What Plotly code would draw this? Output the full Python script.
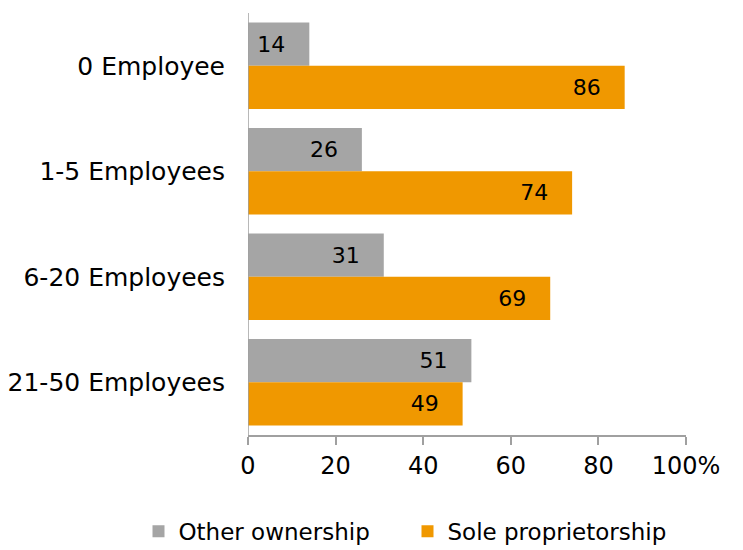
import plotly.graph_objects as go

categories = ["0 Employee", "1-5 Employees", "6-20 Employees", "21-50 Employees"]
other_ownership = [14, 26, 31, 51]
sole_proprietorship = [86, 74, 69, 49]
tick_vals = [0, 20, 40, 60, 80, 100]
tick_text = ["0", "20", "40", "60", "80", "100%"]

FONT = "DejaVu Sans"
GRAY = "#A5A5A5"
ORANGE = "#F09800"
PAD = "\u00a0\u00a0\u00a0"  # keeps value labels a little inside the bar end


def bar(values, name, color):
    return go.Bar(
        y=categories, x=values, orientation="h", name=name,
        marker=dict(color=color, line=dict(width=0)),
        text=[f"{v}{PAD}" for v in values], textposition="inside",
        insidetextanchor="end", textfont=dict(family=FONT, size=22, color="black"),
    )


fig = go.Figure([
    bar(other_ownership, "Other ownership", GRAY),
    bar(sole_proprietorship, "Sole proprietorship", ORANGE),
])

fig.update_layout(
    width=743, height=550,
    margin=dict(l=248, r=57, t=13, b=115, autoexpand=False),
    barmode="group", bargap=0.18, bargroupgap=0,
    plot_bgcolor="white", paper_bgcolor="white",
    font=dict(family=FONT, size=24, color="black"),
    showlegend=True,
    legend=dict(orientation="h", x=-0.25, xanchor="left", y=-0.228, yanchor="middle",
                font=dict(family=FONT, size=23), itemwidth=30, itemsizing="constant",
                entrywidth=224, entrywidthmode="pixels"),
    uniformtext=dict(mode="show", minsize=22),
)
fig.update_xaxes(
    range=[0, 100], tickvals=tick_vals, ticktext=tick_text,
    showgrid=False, zeroline=False, showline=True, linecolor="#A0A0A0", linewidth=1.5,
    ticks="outside", ticklen=8, tickcolor="#A0A0A0", tickwidth=1.5,
    tickfont=dict(family=FONT, size=24), fixedrange=True,
)
fig.update_yaxes(
    autorange="reversed", showgrid=False, zeroline=False,
    showline=False, ticks="", ticklabelstandoff=22,
    tickfont=dict(family=FONT, size=25),
)
# vertical category axis line at x = 0
fig.add_shape(type="line", xref="x", yref="paper", x0=0, x1=0, y0=0, y1=1,
              line=dict(color="#A0A0A0", width=1.5))

fig.write_html("out.html")
